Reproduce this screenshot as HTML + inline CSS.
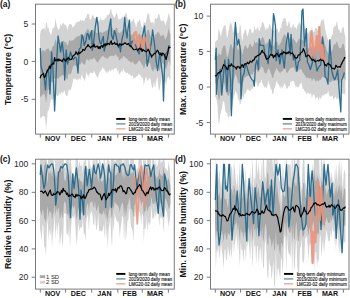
<!DOCTYPE html>
<html><head><meta charset="utf-8"><style>html,body{margin:0;padding:0;background:#fff;width:350px;height:298px;overflow:hidden;position:relative}</style></head>
<body>
<svg width="350" height="298" viewBox="0 0 350 298" style="position:absolute;left:0;top:0">
<defs><clipPath id="clipa"><rect x="35.5" y="4.2" width="138.8" height="129.9"/></clipPath><clipPath id="clipb"><rect x="210.5" y="4.2" width="138.5" height="129.9"/></clipPath><clipPath id="clipc"><rect x="35.5" y="159.2" width="138.8" height="129.90000000000003"/></clipPath><clipPath id="clipd"><rect x="210.5" y="159.2" width="138.5" height="129.90000000000003"/></clipPath></defs>
<g clip-path="url(#clipa)">
<path d="M40.00,34.63 L40.86,30.30 L41.72,29.78 L42.57,28.39 L43.43,28.67 L44.29,27.57 L45.15,30.96 L46.01,22.30 L46.86,22.88 L47.72,28.97 L48.58,27.10 L49.44,31.72 L50.29,34.08 L51.15,35.12 L52.01,31.93 L52.87,27.56 L53.73,28.16 L54.58,26.40 L55.44,17.90 L56.30,23.75 L57.16,26.93 L58.02,29.40 L58.87,29.38 L59.73,28.17 L60.59,23.09 L61.45,26.16 L62.31,23.90 L63.16,22.77 L64.02,23.40 L64.88,25.42 L65.74,24.53 L66.59,26.74 L67.45,30.30 L68.31,26.48 L69.17,24.15 L70.03,24.04 L70.88,24.26 L71.74,24.94 L72.60,27.73 L73.46,27.03 L74.32,25.43 L75.17,25.32 L76.03,22.20 L76.89,22.44 L77.75,21.76 L78.61,21.66 L79.46,21.79 L80.32,19.34 L81.18,20.94 L82.04,20.25 L82.89,20.40 L83.75,21.26 L84.61,20.17 L85.47,17.94 L86.33,17.60 L87.18,13.93 L88.04,14.01 L88.90,13.63 L89.76,19.48 L90.62,19.44 L91.47,18.03 L92.33,15.34 L93.19,15.12 L94.05,17.79 L94.91,17.70 L95.76,18.13 L96.62,18.90 L97.48,17.10 L98.34,19.97 L99.19,21.86 L100.05,17.69 L100.91,19.82 L101.77,19.48 L102.63,20.57 L103.48,19.71 L104.34,20.09 L105.20,16.95 L106.06,19.38 L106.92,14.59 L107.77,15.50 L108.63,14.71 L109.49,13.56 L110.35,9.54 L111.21,9.19 L112.06,14.37 L112.92,14.49 L113.78,17.48 L114.64,17.76 L115.49,15.18 L116.35,13.13 L117.21,13.15 L118.07,21.07 L118.93,17.72 L119.78,19.56 L120.64,18.93 L121.50,18.34 L122.36,16.46 L123.22,17.97 L124.07,15.45 L124.93,15.18 L125.79,12.14 L126.65,14.26 L127.51,18.56 L128.36,19.46 L129.22,21.34 L130.08,22.71 L130.94,22.76 L131.79,21.25 L132.65,21.04 L133.51,18.09 L134.37,21.94 L135.23,23.80 L136.08,27.78 L136.94,24.24 L137.80,21.13 L138.66,22.27 L139.52,18.38 L140.37,21.58 L141.23,25.24 L142.09,27.96 L142.95,26.86 L143.81,20.73 L144.66,22.79 L145.52,23.18 L146.38,19.43 L147.24,14.38 L148.09,14.12 L148.95,13.13 L149.81,19.32 L150.67,22.16 L151.53,22.71 L152.38,22.38 L153.24,21.61 L154.10,26.14 L154.96,16.95 L155.82,18.77 L156.67,18.89 L157.53,17.79 L158.39,14.16 L159.25,13.89 L160.11,18.57 L160.96,20.83 L161.82,21.51 L162.68,20.52 L163.54,20.19 L164.39,22.07 L165.25,25.98 L166.11,22.81 L166.97,20.78 L167.83,17.13 L168.68,12.74 L169.54,15.93 L170.40,19.23 L170.40,80.88 L169.54,78.91 L168.68,76.74 L167.83,76.96 L166.97,80.16 L166.11,86.29 L165.25,81.64 L164.39,81.17 L163.54,78.74 L162.68,77.15 L161.82,77.38 L160.96,81.82 L160.11,86.24 L159.25,91.30 L158.39,87.19 L157.53,76.70 L156.67,79.17 L155.82,83.34 L154.96,88.38 L154.10,80.93 L153.24,87.26 L152.38,87.89 L151.53,85.56 L150.67,79.79 L149.81,77.73 L148.95,78.89 L148.09,80.63 L147.24,80.65 L146.38,77.37 L145.52,77.27 L144.66,81.43 L143.81,85.91 L142.95,78.47 L142.09,77.39 L141.23,76.85 L140.37,74.97 L139.52,74.67 L138.66,73.38 L137.80,75.69 L136.94,76.78 L136.08,76.09 L135.23,78.42 L134.37,77.18 L133.51,79.32 L132.65,75.01 L131.79,76.37 L130.94,76.23 L130.08,74.24 L129.22,74.51 L128.36,73.69 L127.51,72.49 L126.65,73.14 L125.79,72.41 L124.93,71.81 L124.07,70.62 L123.22,68.27 L122.36,72.07 L121.50,70.96 L120.64,72.16 L119.78,74.29 L118.93,74.56 L118.07,68.76 L117.21,72.09 L116.35,68.01 L115.49,68.55 L114.64,68.02 L113.78,69.91 L112.92,70.50 L112.06,68.13 L111.21,70.63 L110.35,71.58 L109.49,69.08 L108.63,71.90 L107.77,71.20 L106.92,74.50 L106.06,70.28 L105.20,72.59 L104.34,68.75 L103.48,68.79 L102.63,66.87 L101.77,69.40 L100.91,70.33 L100.05,71.96 L99.19,73.11 L98.34,76.18 L97.48,77.89 L96.62,76.35 L95.76,74.22 L94.91,73.05 L94.05,70.34 L93.19,72.95 L92.33,73.34 L91.47,72.71 L90.62,72.76 L89.76,73.03 L88.90,77.72 L88.04,73.99 L87.18,75.34 L86.33,71.77 L85.47,78.45 L84.61,81.22 L83.75,79.01 L82.89,77.77 L82.04,73.99 L81.18,76.56 L80.32,80.84 L79.46,77.55 L78.61,80.25 L77.75,78.70 L76.89,79.67 L76.03,80.37 L75.17,78.08 L74.32,79.52 L73.46,78.29 L72.60,83.07 L71.74,86.31 L70.88,89.44 L70.03,91.26 L69.17,88.66 L68.31,91.24 L67.45,95.74 L66.59,96.04 L65.74,95.09 L64.88,91.27 L64.02,90.44 L63.16,92.92 L62.31,92.91 L61.45,91.23 L60.59,95.27 L59.73,91.94 L58.87,94.44 L58.02,96.08 L57.16,96.04 L56.30,94.42 L55.44,100.55 L54.58,95.34 L53.73,97.61 L52.87,100.59 L52.01,99.01 L51.15,99.25 L50.29,102.09 L49.44,107.40 L48.58,110.21 L47.72,110.97 L46.86,121.89 L46.01,129.40 L45.15,117.95 L44.29,116.36 L43.43,115.65 L42.57,116.09 L41.72,117.31 L40.86,119.10 L40.00,115.89 Z" fill="#d3d3d3"/>
<path d="M40.00,55.40 L40.86,52.71 L41.72,51.32 L42.57,50.29 L43.43,50.50 L44.29,50.22 L45.15,52.54 L46.01,49.35 L46.86,48.53 L47.72,49.40 L48.58,47.99 L49.44,50.43 L50.29,50.97 L51.15,50.76 L52.01,48.30 L52.87,45.86 L53.73,45.91 L54.58,43.09 L55.44,38.41 L56.30,41.85 L57.16,44.03 L58.02,46.08 L58.87,45.31 L59.73,44.83 L60.59,41.94 L61.45,42.44 L62.31,41.79 L63.16,40.40 L64.02,41.18 L64.88,42.28 L65.74,42.14 L66.59,43.82 L67.45,46.11 L68.31,43.58 L69.17,40.32 L70.03,40.34 L70.88,41.50 L71.74,40.31 L72.60,40.26 L73.46,40.56 L74.32,38.59 L75.17,38.72 L76.03,36.73 L76.89,36.79 L77.75,36.22 L78.61,36.04 L79.46,36.18 L80.32,34.12 L81.18,34.74 L82.04,34.37 L82.89,34.78 L83.75,35.61 L84.61,34.15 L85.47,32.10 L86.33,31.22 L87.18,28.68 L88.04,29.65 L88.90,29.44 L89.76,32.70 L90.62,32.85 L91.47,31.64 L92.33,29.97 L93.19,29.46 L94.05,31.08 L94.91,31.46 L95.76,32.02 L96.62,33.09 L97.48,32.74 L98.34,32.95 L99.19,33.55 L100.05,31.89 L100.91,32.51 L101.77,32.45 L102.63,33.19 L103.48,31.86 L104.34,31.99 L105.20,30.39 L106.06,31.74 L106.92,29.67 L107.77,30.06 L108.63,28.21 L109.49,27.80 L110.35,25.39 L111.21,25.09 L112.06,27.56 L112.92,28.88 L113.78,30.67 L114.64,30.49 L115.49,27.92 L116.35,27.72 L117.21,28.11 L118.07,32.42 L118.93,32.44 L119.78,32.90 L120.64,32.43 L121.50,31.85 L122.36,29.78 L123.22,30.49 L124.07,28.73 L124.93,28.41 L125.79,28.35 L126.65,28.52 L127.51,31.90 L128.36,33.81 L129.22,34.16 L130.08,35.16 L130.94,36.12 L131.79,34.13 L132.65,34.84 L133.51,33.02 L134.37,35.20 L135.23,37.74 L136.08,39.63 L136.94,37.83 L137.80,35.73 L138.66,34.34 L139.52,32.80 L140.37,35.44 L141.23,37.98 L142.09,40.14 L142.95,39.73 L143.81,36.15 L144.66,37.21 L145.52,36.19 L146.38,34.33 L147.24,30.79 L148.09,29.45 L148.95,29.95 L149.81,34.01 L150.67,36.38 L151.53,37.68 L152.38,37.99 L153.24,38.49 L154.10,40.02 L154.96,34.74 L155.82,34.19 L156.67,34.24 L157.53,32.31 L158.39,31.73 L159.25,33.03 L160.11,35.27 L160.96,36.42 L161.82,35.35 L162.68,35.28 L163.54,34.87 L164.39,36.90 L165.25,39.99 L166.11,37.78 L166.97,36.24 L167.83,32.40 L168.68,27.97 L169.54,31.90 L170.40,34.15 L170.40,65.88 L169.54,62.73 L168.68,60.12 L167.83,62.95 L166.97,66.34 L166.11,69.74 L165.25,67.15 L164.39,66.28 L163.54,64.55 L162.68,62.94 L161.82,64.10 L160.96,67.10 L160.11,69.25 L159.25,71.58 L158.39,68.31 L157.53,62.16 L156.67,64.06 L155.82,67.29 L154.96,70.29 L154.10,67.96 L153.24,71.42 L152.38,70.46 L151.53,69.55 L150.67,65.47 L149.81,63.12 L148.95,62.30 L148.09,62.65 L147.24,64.26 L146.38,63.17 L145.52,63.74 L144.66,66.71 L143.81,69.02 L142.95,65.72 L142.09,64.60 L141.23,63.43 L140.37,61.49 L139.52,60.69 L138.66,60.56 L137.80,62.40 L136.94,63.20 L136.08,64.12 L135.23,64.83 L134.37,63.74 L133.51,63.12 L132.65,61.05 L131.79,62.62 L130.94,62.75 L130.08,61.52 L129.22,61.11 L128.36,60.87 L127.51,59.10 L126.65,58.45 L125.79,58.06 L124.93,56.90 L124.07,56.62 L123.22,55.80 L122.36,58.41 L121.50,58.09 L120.64,59.00 L119.78,60.11 L118.93,60.53 L118.07,56.04 L117.21,57.13 L116.35,54.76 L115.49,54.78 L114.64,54.74 L113.78,56.50 L112.92,55.95 L112.06,55.45 L111.21,55.65 L110.35,56.21 L109.49,56.09 L108.63,57.42 L107.77,58.15 L106.92,59.36 L106.06,57.09 L105.20,58.43 L104.34,56.83 L103.48,56.55 L102.63,55.65 L101.77,57.09 L100.91,57.79 L100.05,59.62 L99.19,59.38 L98.34,62.19 L97.48,62.60 L96.62,61.81 L95.76,60.05 L94.91,59.08 L94.05,57.84 L93.19,57.92 L92.33,59.67 L91.47,59.20 L90.62,59.20 L89.76,59.08 L88.90,61.44 L88.04,58.91 L87.18,59.81 L86.33,59.15 L85.47,63.00 L84.61,64.95 L83.75,64.25 L82.89,63.41 L82.04,61.78 L81.18,63.12 L80.32,64.59 L79.46,64.51 L78.61,64.98 L77.75,65.47 L76.89,65.87 L76.03,66.29 L75.17,64.69 L74.32,66.19 L73.46,65.33 L72.60,68.11 L71.74,71.38 L70.88,73.89 L70.03,74.70 L69.17,72.70 L68.31,74.98 L67.45,79.13 L66.59,79.06 L65.74,77.62 L64.88,74.46 L64.02,74.99 L63.16,75.51 L62.31,75.30 L61.45,75.15 L60.59,77.06 L59.73,76.53 L58.87,78.44 L58.02,78.86 L57.16,78.30 L56.30,77.11 L55.44,79.47 L54.58,77.72 L53.73,80.21 L52.87,82.24 L52.01,81.72 L51.15,82.62 L50.29,84.77 L49.44,88.07 L48.58,89.70 L47.72,90.66 L46.86,97.50 L46.01,103.27 L45.15,95.95 L44.29,94.34 L43.43,93.77 L42.57,94.79 L41.72,95.82 L40.86,97.30 L40.00,95.83 Z" fill="#a9a9a9"/>
<path d="M40.30,48.00 L41.00,66.00 L42.50,72.00 L44.00,76.00 L45.50,90.00 L47.00,70.00 L48.50,69.00 L50.00,94.00 L51.60,52.00 L53.10,72.00 L54.60,111.00 L55.60,89.50 L56.60,62.00 L58.10,36.00 L59.35,43.79 L60.60,52.00 L62.10,42.00 L63.70,55.00 L64.70,80.00 L66.20,50.00 L67.50,64.00 L69.00,58.80 L70.50,52.00 L71.95,56.69 L73.40,59.50 L74.90,57.07 L76.40,58.00 L78.00,73.00 L79.30,49.00 L80.80,47.70 L82.00,35.00 L83.10,37.88 L84.20,45.40 L85.70,41.86 L87.20,33.50 L88.30,34.49 L89.40,39.50 L90.50,34.23 L91.60,30.60 L92.30,50.30 L93.80,41.00 L95.30,26.80 L96.80,17.30 L97.90,24.94 L99.00,38.00 L100.10,42.93 L101.20,43.90 L102.30,39.58 L103.40,36.50 L104.20,51.00 L105.60,45.40 L106.75,43.43 L107.90,38.00 L109.35,26.42 L110.80,18.80 L111.50,35.00 L113.00,39.50 L114.50,30.60 L115.95,35.02 L117.40,42.40 L118.55,47.49 L119.70,45.40 L120.40,51.80 L121.90,39.50 L123.35,33.91 L124.80,17.30 L125.90,31.20 L127.00,38.00 L128.25,27.01 L129.50,20.20 L130.20,46.80 L131.30,42.86 L132.40,40.90 L133.90,45.07 L135.40,45.00 L137.25,49.51 L139.10,54.20 L140.95,43.94 L142.80,35.00 L144.60,26.00 L145.90,45.64 L147.20,66.00 L148.70,58.74 L150.20,48.30 L151.40,42.28 L152.60,30.00 L153.60,37.37 L154.60,45.00 L156.05,60.02 L157.50,70.50 L158.65,61.87 L159.80,52.70 L161.25,64.60 L162.70,76.40 L163.50,101.00 L164.90,55.70 L166.40,52.92 L167.90,51.20 L169.00,45.00" fill="none" stroke="#2a6d8e" stroke-width="1.3" stroke-linejoin="round"/>
<path d="M133.50,47.00 L134.50,33.00 L136.00,32.00 L137.50,40.00 L138.50,50.00 L139.50,42.00 L141.00,36.00 L142.50,48.00 L144.00,40.00 L145.50,38.00 L147.00,44.00 L148.50,50.00 L149.70,46.00" fill="none" stroke="#ea9479" stroke-width="2.2" stroke-linejoin="round" stroke-opacity="0.92"/>
<path d="M40.00,78.21 L40.86,75.70 L41.72,74.99 L42.57,74.28 L43.43,73.37 L44.29,77.59 L45.15,76.80 L46.01,73.54 L46.86,72.32 L47.72,70.05 L48.58,69.57 L49.44,66.01 L50.29,68.33 L51.15,64.73 L52.01,64.35 L52.87,63.24 L53.73,64.12 L54.58,57.58 L55.44,60.81 L56.30,60.21 L57.16,59.18 L58.02,61.11 L58.87,58.92 L59.73,60.58 L60.59,59.94 L61.45,60.92 L62.31,61.60 L63.16,59.16 L64.02,58.76 L64.88,60.19 L65.74,61.55 L66.59,58.92 L67.45,59.36 L68.31,57.39 L69.17,58.54 L70.03,59.84 L70.88,59.30 L71.74,59.16 L72.60,56.62 L73.46,55.31 L74.32,54.93 L75.17,54.25 L76.03,51.74 L76.89,53.22 L77.75,54.63 L78.61,52.06 L79.46,53.42 L80.32,52.91 L81.18,51.78 L82.04,51.60 L82.89,49.29 L83.75,50.01 L84.61,50.32 L85.47,48.53 L86.33,47.05 L87.18,46.58 L88.04,44.54 L88.90,46.20 L89.76,46.58 L90.62,47.96 L91.47,46.62 L92.33,45.86 L93.19,46.70 L94.05,44.01 L94.91,47.13 L95.76,46.95 L96.62,46.55 L97.48,46.09 L98.34,48.48 L99.19,46.61 L100.05,48.69 L100.91,46.09 L101.77,45.36 L102.63,47.33 L103.48,45.41 L104.34,44.02 L105.20,45.98 L106.06,43.48 L106.92,45.08 L107.77,43.33 L108.63,43.78 L109.49,44.69 L110.35,42.28 L111.21,40.87 L112.06,44.49 L112.92,43.67 L113.78,43.56 L114.64,42.43 L115.49,44.52 L116.35,44.49 L117.21,43.42 L118.07,45.95 L118.93,45.49 L119.78,43.68 L120.64,44.23 L121.50,45.41 L122.36,44.07 L123.22,44.30 L124.07,43.35 L124.93,42.78 L125.79,43.56 L126.65,44.17 L127.51,44.49 L128.36,43.37 L129.22,45.00 L130.08,46.20 L130.94,45.72 L131.79,47.11 L132.65,48.43 L133.51,49.70 L134.37,49.74 L135.23,49.49 L136.08,49.17 L136.94,49.21 L137.80,50.80 L138.66,48.97 L139.52,48.22 L140.37,49.77 L141.23,48.47 L142.09,51.51 L142.95,49.45 L143.81,50.33 L144.66,50.91 L145.52,51.09 L146.38,51.91 L147.24,50.75 L148.09,49.22 L148.95,51.02 L149.81,53.25 L150.67,54.16 L151.53,57.14 L152.38,55.24 L153.24,54.93 L154.10,53.45 L154.96,53.68 L155.82,52.69 L156.67,51.20 L157.53,50.20 L158.39,51.68 L159.25,54.13 L160.11,54.74 L160.96,52.98 L161.82,55.80 L162.68,53.03 L163.54,53.71 L164.39,54.92 L165.25,57.08 L166.11,59.52 L166.97,55.90 L167.83,53.10 L168.68,47.14 L169.54,47.94 L170.40,46.73" fill="none" stroke="#000" stroke-width="1.2" stroke-linejoin="round"/>
</g>
<rect x="35.5" y="4.2" width="138.80" height="129.90" fill="none" stroke="#7a7a7a" stroke-width="1"/>
<line x1="40.3" y1="134.1" x2="40.3" y2="137.7" stroke="#7a7a7a" stroke-width="1"/>
<line x1="65.6" y1="134.1" x2="65.6" y2="137.7" stroke="#7a7a7a" stroke-width="1"/>
<line x1="91.7" y1="134.1" x2="91.7" y2="137.7" stroke="#7a7a7a" stroke-width="1"/>
<line x1="117.8" y1="134.1" x2="117.8" y2="137.7" stroke="#7a7a7a" stroke-width="1"/>
<line x1="142.3" y1="134.1" x2="142.3" y2="137.7" stroke="#7a7a7a" stroke-width="1"/>
<line x1="168.4" y1="134.1" x2="168.4" y2="137.7" stroke="#7a7a7a" stroke-width="1"/>
<text x="52.65" y="141.30" font-family="'Liberation Sans', sans-serif" font-weight="bold" font-size="7.15" text-anchor="middle" fill="#111">NOV</text>
<text x="78.35" y="141.30" font-family="'Liberation Sans', sans-serif" font-weight="bold" font-size="7.15" text-anchor="middle" fill="#111">DEC</text>
<text x="104.45" y="141.30" font-family="'Liberation Sans', sans-serif" font-weight="bold" font-size="7.15" text-anchor="middle" fill="#111">JAN</text>
<text x="129.75" y="141.30" font-family="'Liberation Sans', sans-serif" font-weight="bold" font-size="7.15" text-anchor="middle" fill="#111">FEB</text>
<text x="155.05" y="141.30" font-family="'Liberation Sans', sans-serif" font-weight="bold" font-size="7.15" text-anchor="middle" fill="#111">MAR</text>
<line x1="31.7" y1="24.0" x2="35.5" y2="24.0" stroke="#7a7a7a" stroke-width="1"/>
<text x="28.3" y="27.10" font-family="'Liberation Sans', sans-serif" font-size="8.6" text-anchor="end" fill="#2a2a2a">5</text>
<line x1="31.7" y1="61.4" x2="35.5" y2="61.4" stroke="#7a7a7a" stroke-width="1"/>
<text x="28.3" y="64.50" font-family="'Liberation Sans', sans-serif" font-size="8.6" text-anchor="end" fill="#2a2a2a">0</text>
<line x1="31.7" y1="99.3" x2="35.5" y2="99.3" stroke="#7a7a7a" stroke-width="1"/>
<text x="28.3" y="102.40" font-family="'Liberation Sans', sans-serif" font-size="8.6" text-anchor="end" fill="#2a2a2a">-5</text>
<text transform="translate(10.6,69.3) rotate(-90)" font-family="'Liberation Sans', sans-serif" font-weight="bold" font-size="8.85" text-anchor="middle" fill="#111">Temperature (°C)</text>
<text x="0" y="7.4" font-family="'Liberation Sans', sans-serif" font-weight="bold" font-size="8.5" fill="#111">(a)</text>
<text x="128.80" y="120.90" font-family="'Liberation Sans', sans-serif" font-size="4.42" fill="#111" stroke="#111" stroke-width="0.12">long-term daily mean</text>
<line x1="116.20" y1="118.90" x2="125.40" y2="118.90" stroke="#000" stroke-width="1.9"/>
<text x="128.80" y="125.85" font-family="'Liberation Sans', sans-serif" font-size="4.42" fill="#111" stroke="#111" stroke-width="0.12">2019/2020 daily mean</text>
<line x1="116.20" y1="123.85" x2="125.40" y2="123.85" stroke="#86aabd" stroke-width="1.8"/>
<text x="128.80" y="130.80" font-family="'Liberation Sans', sans-serif" font-size="4.42" fill="#111" stroke="#111" stroke-width="0.12">LMG20-02 daily mean</text>
<line x1="116.20" y1="128.80" x2="125.40" y2="128.80" stroke="#f3b29b" stroke-width="1.6"/>
<g clip-path="url(#clipb)">
<path d="M215.00,41.41 L215.86,42.04 L216.72,40.04 L217.57,40.27 L218.43,29.53 L219.29,29.69 L220.15,34.53 L221.01,36.61 L221.86,31.76 L222.72,28.91 L223.58,26.62 L224.44,25.43 L225.29,24.70 L226.15,29.44 L227.01,38.66 L227.87,35.42 L228.73,29.62 L229.58,25.58 L230.44,22.41 L231.30,23.40 L232.16,26.47 L233.02,33.21 L233.87,29.35 L234.73,26.18 L235.59,25.34 L236.45,26.71 L237.31,33.83 L238.16,32.48 L239.02,33.01 L239.88,23.24 L240.74,26.86 L241.59,36.39 L242.45,41.92 L243.31,33.79 L244.17,32.63 L245.03,28.68 L245.88,29.88 L246.74,33.93 L247.60,36.47 L248.46,33.42 L249.32,29.11 L250.17,29.13 L251.03,29.59 L251.89,33.82 L252.75,32.42 L253.61,32.76 L254.46,24.89 L255.32,29.68 L256.18,30.23 L257.04,27.62 L257.89,27.14 L258.75,30.72 L259.61,31.06 L260.47,27.50 L261.33,26.16 L262.18,21.79 L263.04,22.59 L263.90,23.95 L264.76,27.43 L265.62,31.01 L266.47,27.55 L267.33,28.19 L268.19,29.83 L269.05,24.39 L269.91,24.29 L270.76,27.02 L271.62,28.70 L272.48,30.70 L273.34,29.98 L274.19,31.52 L275.05,26.68 L275.91,27.82 L276.77,29.36 L277.63,28.43 L278.48,32.84 L279.34,32.13 L280.20,27.16 L281.06,29.01 L281.92,21.97 L282.77,20.67 L283.63,17.88 L284.49,18.30 L285.35,17.94 L286.21,21.64 L287.06,26.29 L287.92,25.58 L288.78,20.65 L289.64,22.61 L290.49,27.50 L291.35,28.17 L292.21,26.49 L293.07,23.41 L293.93,26.23 L294.78,27.60 L295.64,27.36 L296.50,29.50 L297.36,25.68 L298.22,24.31 L299.07,22.09 L299.93,23.75 L300.79,25.69 L301.65,26.65 L302.51,21.73 L303.36,25.53 L304.22,26.00 L305.08,29.12 L305.94,29.36 L306.79,30.49 L307.65,33.82 L308.51,33.28 L309.37,30.32 L310.23,31.54 L311.08,31.72 L311.94,26.47 L312.80,31.35 L313.66,32.38 L314.52,31.58 L315.37,27.23 L316.23,28.11 L317.09,29.67 L317.95,29.53 L318.81,25.28 L319.66,27.59 L320.52,22.75 L321.38,20.24 L322.24,20.79 L323.09,18.55 L323.95,20.79 L324.81,27.34 L325.67,31.34 L326.53,35.31 L327.38,37.79 L328.24,40.96 L329.10,39.67 L329.96,39.34 L330.82,38.55 L331.67,35.79 L332.53,34.30 L333.39,28.24 L334.25,25.70 L335.11,27.33 L335.96,25.11 L336.82,20.83 L337.68,25.74 L338.54,30.16 L339.39,29.03 L340.25,32.73 L341.11,33.04 L341.97,28.89 L342.83,26.54 L343.68,27.68 L344.54,33.66 L345.40,36.38 L345.40,96.91 L344.54,93.45 L343.68,93.42 L342.83,94.13 L341.97,93.27 L341.11,93.88 L340.25,98.15 L339.39,102.04 L338.54,98.51 L337.68,97.81 L336.82,100.24 L335.96,96.73 L335.11,97.02 L334.25,98.79 L333.39,99.47 L332.53,95.36 L331.67,96.37 L330.82,96.60 L329.96,96.60 L329.10,94.97 L328.24,90.77 L327.38,93.26 L326.53,94.10 L325.67,93.69 L324.81,94.59 L323.95,94.67 L323.09,95.86 L322.24,95.33 L321.38,97.49 L320.52,99.22 L319.66,96.60 L318.81,101.02 L317.95,98.19 L317.09,96.79 L316.23,97.72 L315.37,99.42 L314.52,95.31 L313.66,94.16 L312.80,94.81 L311.94,98.56 L311.08,93.54 L310.23,93.23 L309.37,94.71 L308.51,92.32 L307.65,92.53 L306.79,94.43 L305.94,93.10 L305.08,91.50 L304.22,90.51 L303.36,88.73 L302.51,88.72 L301.65,82.52 L300.79,83.22 L299.93,84.14 L299.07,87.00 L298.22,87.23 L297.36,87.34 L296.50,86.19 L295.64,86.98 L294.78,84.15 L293.93,81.35 L293.07,80.93 L292.21,80.93 L291.35,81.79 L290.49,81.59 L289.64,86.20 L288.78,86.07 L287.92,87.94 L287.06,88.41 L286.21,88.70 L285.35,85.05 L284.49,83.05 L283.63,85.50 L282.77,86.82 L281.92,89.27 L281.06,85.13 L280.20,88.65 L279.34,85.65 L278.48,84.21 L277.63,83.30 L276.77,80.72 L275.91,83.69 L275.05,86.78 L274.19,88.47 L273.34,93.76 L272.48,94.11 L271.62,89.64 L270.76,89.07 L269.91,85.55 L269.05,83.63 L268.19,80.41 L267.33,86.30 L266.47,88.81 L265.62,86.11 L264.76,88.18 L263.90,86.53 L263.04,84.13 L262.18,82.80 L261.33,79.09 L260.47,82.95 L259.61,82.63 L258.75,85.40 L257.89,86.72 L257.04,84.57 L256.18,81.24 L255.32,81.94 L254.46,87.70 L253.61,85.18 L252.75,89.54 L251.89,87.87 L251.03,90.71 L250.17,90.28 L249.32,91.18 L248.46,89.56 L247.60,89.22 L246.74,90.47 L245.88,92.67 L245.03,95.09 L244.17,92.92 L243.31,99.36 L242.45,95.22 L241.59,98.69 L240.74,103.19 L239.88,105.08 L239.02,99.24 L238.16,100.62 L237.31,94.01 L236.45,93.00 L235.59,90.00 L234.73,94.50 L233.87,96.53 L233.02,100.83 L232.16,106.28 L231.30,108.80 L230.44,111.51 L229.58,116.25 L228.73,117.51 L227.87,116.57 L227.01,112.20 L226.15,113.54 L225.29,110.61 L224.44,103.54 L223.58,100.67 L222.72,102.12 L221.86,108.43 L221.01,111.90 L220.15,115.32 L219.29,123.71 L218.43,122.59 L217.57,105.38 L216.72,100.48 L215.86,97.69 L215.00,96.24 Z" fill="#d3d3d3"/>
<path d="M215.00,55.83 L215.86,55.91 L216.72,55.41 L217.57,56.26 L218.43,53.07 L219.29,53.82 L220.15,55.11 L221.01,55.24 L221.86,50.58 L222.72,47.60 L223.58,45.48 L224.44,45.24 L225.29,46.37 L226.15,50.95 L227.01,57.24 L227.87,55.38 L228.73,52.15 L229.58,47.48 L230.44,43.71 L231.30,44.16 L232.16,46.79 L233.02,49.74 L233.87,46.76 L234.73,42.62 L235.59,41.28 L236.45,43.52 L237.31,48.61 L238.16,50.19 L239.02,49.43 L239.88,44.22 L240.74,46.33 L241.59,51.32 L242.45,54.69 L243.31,50.30 L244.17,47.92 L245.03,45.02 L245.88,45.55 L246.74,47.73 L247.60,48.91 L248.46,47.29 L249.32,44.49 L250.17,43.73 L251.03,45.09 L251.89,46.86 L252.75,47.11 L253.61,45.02 L254.46,40.36 L255.32,43.37 L256.18,42.72 L257.04,41.70 L257.89,43.10 L258.75,44.71 L259.61,43.81 L260.47,40.50 L261.33,38.73 L262.18,36.79 L263.04,37.17 L263.90,39.36 L264.76,42.49 L265.62,45.00 L266.47,43.42 L267.33,42.59 L268.19,42.48 L269.05,39.35 L269.91,40.09 L270.76,42.15 L271.62,44.75 L272.48,46.34 L273.34,46.01 L274.19,45.24 L275.05,41.73 L275.91,41.22 L276.77,42.10 L277.63,42.53 L278.48,45.70 L279.34,45.08 L280.20,43.11 L281.06,42.58 L281.92,39.09 L282.77,36.94 L283.63,35.23 L284.49,34.50 L285.35,34.85 L286.21,37.88 L287.06,42.56 L287.92,40.65 L288.78,37.29 L289.64,38.30 L290.49,41.11 L291.35,41.76 L292.21,40.01 L293.07,37.87 L293.93,39.33 L294.78,40.60 L295.64,41.70 L296.50,43.45 L297.36,41.71 L298.22,40.15 L299.07,38.14 L299.93,39.34 L300.79,39.98 L301.65,40.54 L302.51,39.21 L303.36,41.02 L304.22,41.53 L305.08,44.16 L305.94,44.93 L306.79,46.69 L307.65,49.13 L308.51,48.24 L309.37,47.18 L310.23,48.05 L311.08,47.74 L311.94,45.22 L312.80,46.93 L313.66,48.20 L314.52,47.29 L315.37,45.48 L316.23,45.92 L317.09,46.57 L317.95,46.09 L318.81,44.49 L319.66,45.30 L320.52,41.54 L321.38,40.13 L322.24,38.95 L323.09,38.14 L323.95,40.66 L324.81,43.80 L325.67,46.13 L326.53,49.50 L327.38,51.70 L328.24,53.69 L329.10,53.23 L329.96,53.39 L330.82,53.59 L331.67,51.13 L332.53,49.44 L333.39,45.54 L334.25,44.21 L335.11,44.57 L335.96,43.33 L336.82,41.00 L337.68,44.02 L338.54,46.23 L339.39,47.84 L340.25,48.34 L341.11,48.19 L341.97,45.31 L342.83,44.10 L343.68,43.57 L344.54,48.21 L345.40,51.43 L345.40,81.56 L344.54,78.61 L343.68,77.08 L342.83,77.05 L341.97,77.17 L341.11,78.30 L340.25,82.48 L339.39,84.02 L338.54,81.40 L337.68,79.81 L336.82,80.93 L335.96,79.39 L335.11,79.26 L334.25,80.50 L333.39,81.26 L332.53,80.07 L331.67,81.33 L330.82,82.10 L329.96,82.53 L329.10,81.05 L328.24,78.76 L327.38,79.54 L326.53,79.13 L325.67,78.04 L324.81,77.68 L323.95,77.43 L323.09,76.71 L322.24,76.98 L321.38,78.46 L320.52,79.96 L319.66,79.54 L318.81,81.62 L317.95,80.70 L317.09,80.36 L316.23,80.82 L315.37,81.64 L314.52,79.26 L313.66,78.60 L312.80,79.22 L311.94,81.38 L311.08,78.15 L310.23,78.04 L309.37,78.75 L308.51,77.83 L307.65,77.63 L306.79,78.21 L305.94,77.25 L305.08,75.41 L304.22,74.80 L303.36,73.06 L302.51,72.24 L301.65,69.42 L300.79,68.98 L299.93,69.52 L299.07,69.54 L298.22,70.79 L297.36,72.27 L296.50,71.93 L295.64,71.89 L294.78,69.77 L293.93,67.61 L293.07,66.87 L292.21,68.43 L291.35,67.79 L290.49,67.94 L289.64,69.55 L288.78,70.64 L287.92,72.00 L287.06,73.26 L286.21,72.30 L285.35,68.66 L284.49,66.72 L283.63,68.97 L282.77,70.82 L281.92,71.99 L281.06,70.97 L280.20,73.77 L279.34,71.95 L278.48,71.16 L277.63,70.24 L276.77,67.68 L275.91,69.58 L275.05,71.78 L274.19,73.62 L273.34,77.53 L272.48,78.09 L271.62,75.22 L270.76,72.97 L269.91,70.59 L269.05,69.15 L268.19,68.29 L267.33,70.99 L266.47,73.26 L265.62,73.50 L264.76,73.09 L263.90,70.56 L263.04,68.11 L262.18,67.10 L261.33,65.89 L260.47,68.68 L259.61,69.60 L258.75,71.40 L257.89,72.15 L257.04,70.59 L256.18,69.19 L255.32,68.97 L254.46,71.86 L253.61,71.51 L252.75,74.81 L251.89,74.09 L251.03,75.05 L250.17,74.37 L249.32,75.74 L248.46,75.62 L247.60,76.02 L246.74,76.24 L245.88,76.90 L245.03,77.18 L244.17,78.24 L243.31,82.19 L242.45,81.79 L241.59,83.21 L240.74,84.33 L239.88,84.49 L239.02,82.02 L238.16,84.13 L237.31,78.73 L236.45,76.80 L235.59,73.70 L234.73,76.68 L233.87,79.90 L233.02,83.52 L232.16,86.52 L231.30,87.34 L230.44,89.10 L229.58,93.20 L228.73,95.74 L227.87,95.85 L227.01,93.91 L226.15,92.41 L225.29,88.82 L224.44,84.15 L223.58,82.14 L222.72,84.22 L221.86,89.31 L221.01,92.35 L220.15,95.60 L219.29,100.21 L218.43,99.08 L217.57,89.33 L216.72,85.84 L215.86,83.24 L215.00,83.22 Z" fill="#a9a9a9"/>
<path d="M215.30,60.00 L216.20,48.10 L216.60,94.30 L217.40,80.00 L218.85,75.12 L220.30,69.50 L221.80,95.00 L223.30,76.75 L224.80,60.00 L226.20,77.00 L227.00,91.40 L228.50,59.20 L229.60,67.90 L230.70,81.40 L231.40,115.80 L232.50,87.18 L233.60,57.70 L235.40,22.50 L236.35,35.68 L237.30,45.00 L238.80,39.50 L240.30,50.00 L241.00,98.80 L242.50,77.00 L244.00,73.59 L245.50,63.60 L246.95,66.88 L248.40,72.00 L250.25,76.72 L252.10,80.00 L253.20,80.39 L254.30,86.00 L255.50,65.00 L257.00,60.00 L258.50,69.50 L259.20,38.70 L260.00,45.00 L261.80,45.29 L263.60,45.40 L265.00,55.00 L266.55,55.87 L268.10,63.60 L269.60,39.50 L270.55,46.10 L271.50,55.00 L272.50,34.86 L273.50,13.60 L274.50,18.58 L275.50,26.90 L276.20,60.70 L278.00,50.00 L278.95,57.91 L279.90,64.00 L280.95,57.14 L282.00,50.00 L283.15,59.80 L284.30,68.00 L286.00,45.00 L287.00,39.17 L288.00,32.80 L289.10,43.57 L290.20,55.00 L291.00,34.30 L292.25,51.44 L293.50,60.00 L295.00,55.00 L295.95,64.68 L296.90,71.00 L298.35,62.09 L299.80,60.00 L300.90,38.13 L302.00,10.80 L303.00,9.00 L304.50,45.90 L305.45,38.03 L306.40,28.40 L307.40,62.20 L308.90,65.00 L310.40,69.50 L312.25,63.25 L314.10,51.80 L315.55,62.23 L317.00,71.00 L318.85,66.78 L320.70,65.10 L321.60,49.43 L322.50,36.80 L323.50,45.90 L325.20,76.90 L326.60,78.55 L328.00,84.00 L328.90,62.18 L329.80,40.00 L330.80,55.25 L331.80,71.00 L333.30,76.74 L334.80,79.90 L336.25,75.77 L337.70,70.00 L339.25,91.20 L340.80,111.90 L341.60,79.90 L343.00,77.33 L344.40,72.50" fill="none" stroke="#2a6d8e" stroke-width="1.3" stroke-linejoin="round"/>
<path d="M309.70,58.00 L310.50,40.00 L311.50,31.00 L313.40,50.00 L314.50,58.00 L315.80,45.00 L316.70,36.00 L318.00,50.00 L319.30,27.00 L320.50,48.00 L321.50,60.00 L322.50,45.00 L323.50,55.00 L324.50,62.00" fill="none" stroke="#ea9479" stroke-width="2.2" stroke-linejoin="round" stroke-opacity="0.92"/>
<path d="M215.00,75.56 L215.86,76.09 L216.72,75.63 L217.57,73.63 L218.43,72.60 L219.29,72.79 L220.15,71.48 L221.01,71.87 L221.86,69.63 L222.72,67.11 L223.58,64.63 L224.44,65.56 L225.29,66.07 L226.15,66.99 L227.01,69.81 L227.87,69.08 L228.73,65.30 L229.58,65.56 L230.44,66.11 L231.30,63.74 L232.16,65.62 L233.02,66.40 L233.87,66.08 L234.73,67.05 L235.59,67.55 L236.45,69.18 L237.31,66.42 L238.16,66.86 L239.02,66.78 L239.88,68.37 L240.74,67.49 L241.59,65.07 L242.45,64.71 L243.31,67.40 L244.17,64.89 L245.03,63.58 L245.88,64.13 L246.74,63.81 L247.60,62.21 L248.46,63.70 L249.32,63.04 L250.17,61.07 L251.03,61.72 L251.89,62.13 L252.75,60.17 L253.61,60.45 L254.46,59.19 L255.32,56.75 L256.18,57.20 L257.04,55.86 L257.89,55.28 L258.75,55.56 L259.61,54.05 L260.47,54.04 L261.33,51.91 L262.18,50.33 L263.04,52.58 L263.90,52.78 L264.76,54.10 L265.62,57.00 L266.47,59.18 L267.33,58.54 L268.19,58.78 L269.05,57.38 L269.91,55.68 L270.76,54.24 L271.62,55.20 L272.48,54.65 L273.34,57.88 L274.19,55.35 L275.05,56.78 L275.91,54.15 L276.77,53.45 L277.63,54.33 L278.48,56.04 L279.34,56.86 L280.20,53.70 L281.06,54.14 L281.92,53.22 L282.77,53.92 L283.63,51.65 L284.49,52.70 L285.35,52.60 L286.21,53.91 L287.06,52.30 L287.92,53.52 L288.78,51.71 L289.64,52.23 L290.49,52.98 L291.35,53.64 L292.21,52.91 L293.07,54.03 L293.93,55.69 L294.78,57.52 L295.64,57.64 L296.50,58.20 L297.36,57.50 L298.22,54.81 L299.07,54.88 L299.93,54.88 L300.79,52.80 L301.65,52.25 L302.51,51.71 L303.36,48.70 L304.22,50.52 L305.08,53.14 L305.94,56.81 L306.79,56.33 L307.65,55.23 L308.51,55.12 L309.37,55.96 L310.23,57.64 L311.08,58.60 L311.94,60.31 L312.80,59.94 L313.66,59.65 L314.52,61.14 L315.37,61.80 L316.23,61.04 L317.09,60.75 L317.95,60.35 L318.81,61.04 L319.66,60.33 L320.52,59.06 L321.38,60.34 L322.24,60.13 L323.09,60.42 L323.95,61.92 L324.81,65.36 L325.67,64.81 L326.53,66.16 L327.38,63.91 L328.24,63.13 L329.10,64.63 L329.96,64.47 L330.82,66.28 L331.67,67.90 L332.53,68.49 L333.39,68.39 L334.25,69.18 L335.11,68.05 L335.96,65.23 L336.82,66.41 L337.68,67.36 L338.54,66.73 L339.39,66.64 L340.25,67.25 L341.11,64.62 L341.97,63.16 L342.83,61.10 L343.68,60.25 L344.54,57.45 L345.40,58.27" fill="none" stroke="#000" stroke-width="1.2" stroke-linejoin="round"/>
</g>
<rect x="210.5" y="4.2" width="138.50" height="129.90" fill="none" stroke="#7a7a7a" stroke-width="1"/>
<line x1="215.3" y1="134.1" x2="215.3" y2="137.7" stroke="#7a7a7a" stroke-width="1"/>
<line x1="240.6" y1="134.1" x2="240.6" y2="137.7" stroke="#7a7a7a" stroke-width="1"/>
<line x1="266.7" y1="134.1" x2="266.7" y2="137.7" stroke="#7a7a7a" stroke-width="1"/>
<line x1="292.8" y1="134.1" x2="292.8" y2="137.7" stroke="#7a7a7a" stroke-width="1"/>
<line x1="317.3" y1="134.1" x2="317.3" y2="137.7" stroke="#7a7a7a" stroke-width="1"/>
<line x1="343.4" y1="134.1" x2="343.4" y2="137.7" stroke="#7a7a7a" stroke-width="1"/>
<text x="227.65" y="141.30" font-family="'Liberation Sans', sans-serif" font-weight="bold" font-size="7.15" text-anchor="middle" fill="#111">NOV</text>
<text x="253.35" y="141.30" font-family="'Liberation Sans', sans-serif" font-weight="bold" font-size="7.15" text-anchor="middle" fill="#111">DEC</text>
<text x="279.45" y="141.30" font-family="'Liberation Sans', sans-serif" font-weight="bold" font-size="7.15" text-anchor="middle" fill="#111">JAN</text>
<text x="304.75" y="141.30" font-family="'Liberation Sans', sans-serif" font-weight="bold" font-size="7.15" text-anchor="middle" fill="#111">FEB</text>
<text x="330.05" y="141.30" font-family="'Liberation Sans', sans-serif" font-weight="bold" font-size="7.15" text-anchor="middle" fill="#111">MAR</text>
<line x1="206.7" y1="16.1" x2="210.5" y2="16.1" stroke="#7a7a7a" stroke-width="1"/>
<text x="203.3" y="19.20" font-family="'Liberation Sans', sans-serif" font-size="8.6" text-anchor="end" fill="#2a2a2a">10</text>
<line x1="206.7" y1="51.4" x2="210.5" y2="51.4" stroke="#7a7a7a" stroke-width="1"/>
<text x="203.3" y="54.50" font-family="'Liberation Sans', sans-serif" font-size="8.6" text-anchor="end" fill="#2a2a2a">5</text>
<line x1="206.7" y1="87.0" x2="210.5" y2="87.0" stroke="#7a7a7a" stroke-width="1"/>
<text x="203.3" y="90.10" font-family="'Liberation Sans', sans-serif" font-size="8.6" text-anchor="end" fill="#2a2a2a">0</text>
<line x1="206.7" y1="122.5" x2="210.5" y2="122.5" stroke="#7a7a7a" stroke-width="1"/>
<text x="203.3" y="125.60" font-family="'Liberation Sans', sans-serif" font-size="8.6" text-anchor="end" fill="#2a2a2a">-5</text>
<text transform="translate(185.6,69.3) rotate(-90)" font-family="'Liberation Sans', sans-serif" font-weight="bold" font-size="8.85" text-anchor="middle" fill="#111">Max. temperature (°C)</text>
<text x="175" y="7.4" font-family="'Liberation Sans', sans-serif" font-weight="bold" font-size="8.5" fill="#111">(b)</text>
<text x="295.41" y="120.90" font-family="'Liberation Sans', sans-serif" font-size="4.42" fill="#111" stroke="#111" stroke-width="0.12">long-term daily maximum</text>
<line x1="282.81" y1="118.90" x2="292.01" y2="118.90" stroke="#000" stroke-width="1.9"/>
<text x="295.41" y="125.85" font-family="'Liberation Sans', sans-serif" font-size="4.42" fill="#111" stroke="#111" stroke-width="0.12">2019/2020 daily maximum</text>
<line x1="282.81" y1="123.85" x2="292.01" y2="123.85" stroke="#86aabd" stroke-width="1.8"/>
<text x="295.41" y="130.80" font-family="'Liberation Sans', sans-serif" font-size="4.42" fill="#111" stroke="#111" stroke-width="0.12">LMG20-02 daily maximum</text>
<line x1="282.81" y1="128.80" x2="292.01" y2="128.80" stroke="#f3b29b" stroke-width="1.6"/>
<g clip-path="url(#clipc)">
<path d="M40.00,153.34 L40.86,148.13 L41.72,143.96 L42.57,159.57 L43.43,156.59 L44.29,137.46 L45.15,134.94 L46.01,127.97 L46.86,158.14 L47.72,173.66 L48.58,145.94 L49.44,156.40 L50.29,147.36 L51.15,160.47 L52.01,143.76 L52.87,156.21 L53.73,160.56 L54.58,174.87 L55.44,149.65 L56.30,162.92 L57.16,148.31 L58.02,156.72 L58.87,162.61 L59.73,143.93 L60.59,146.24 L61.45,153.22 L62.31,134.82 L63.16,139.00 L64.02,165.34 L64.88,168.67 L65.74,167.26 L66.59,151.83 L67.45,154.92 L68.31,155.88 L69.17,165.49 L70.03,141.41 L70.88,158.99 L71.74,170.78 L72.60,176.30 L73.46,172.28 L74.32,177.68 L75.17,168.69 L76.03,154.99 L76.89,143.47 L77.75,158.15 L78.61,168.49 L79.46,160.55 L80.32,165.54 L81.18,166.44 L82.04,163.37 L82.89,174.54 L83.75,158.56 L84.61,162.95 L85.47,152.65 L86.33,167.30 L87.18,168.57 L88.04,168.59 L88.90,149.42 L89.76,163.16 L90.62,166.85 L91.47,168.27 L92.33,166.12 L93.19,153.90 L94.05,152.96 L94.91,166.02 L95.76,156.81 L96.62,152.69 L97.48,160.68 L98.34,172.86 L99.19,154.94 L100.05,158.53 L100.91,163.77 L101.77,166.09 L102.63,164.36 L103.48,164.67 L104.34,149.07 L105.20,172.20 L106.06,157.69 L106.92,170.43 L107.77,144.07 L108.63,160.45 L109.49,161.03 L110.35,171.16 L111.21,147.84 L112.06,134.26 L112.92,159.75 L113.78,145.26 L114.64,162.57 L115.49,161.03 L116.35,160.02 L117.21,155.67 L118.07,156.20 L118.93,148.79 L119.78,138.20 L120.64,145.97 L121.50,150.00 L122.36,162.23 L123.22,165.13 L124.07,142.46 L124.93,166.81 L125.79,146.57 L126.65,152.24 L127.51,153.58 L128.36,150.90 L129.22,167.42 L130.08,162.83 L130.94,152.09 L131.79,156.05 L132.65,154.58 L133.51,144.34 L134.37,170.95 L135.23,167.61 L136.08,171.86 L136.94,167.05 L137.80,170.10 L138.66,159.15 L139.52,157.38 L140.37,158.09 L141.23,152.13 L142.09,164.77 L142.95,168.84 L143.81,142.96 L144.66,162.13 L145.52,157.37 L146.38,171.85 L147.24,157.03 L148.09,158.95 L148.95,158.43 L149.81,151.26 L150.67,156.62 L151.53,171.61 L152.38,157.69 L153.24,157.49 L154.10,159.00 L154.96,167.14 L155.82,159.87 L156.67,167.31 L157.53,165.24 L158.39,161.99 L159.25,148.84 L160.11,164.12 L160.96,158.63 L161.82,163.41 L162.68,160.59 L163.54,142.12 L164.39,158.95 L165.25,169.03 L166.11,167.56 L166.97,171.68 L167.83,169.84 L168.68,160.91 L169.54,168.08 L170.40,176.46 L170.40,213.11 L169.54,220.64 L168.68,227.12 L167.83,220.15 L166.97,212.69 L166.11,210.61 L165.25,207.55 L164.39,218.69 L163.54,234.06 L162.68,218.37 L161.82,216.78 L160.96,219.33 L160.11,215.65 L159.25,226.86 L158.39,213.06 L157.53,213.63 L156.67,210.89 L155.82,217.56 L154.96,211.42 L154.10,217.33 L153.24,218.84 L152.38,218.33 L151.53,205.98 L150.67,219.79 L149.81,226.51 L148.95,221.31 L148.09,224.07 L147.24,231.47 L146.38,215.39 L145.52,229.80 L144.66,227.35 L143.81,242.38 L142.95,213.75 L142.09,214.26 L141.23,224.47 L140.37,214.91 L139.52,211.85 L138.66,211.14 L137.80,204.19 L136.94,210.65 L136.08,209.28 L135.23,217.34 L134.37,216.15 L133.51,242.18 L132.65,230.70 L131.79,227.61 L130.94,227.76 L130.08,214.30 L129.22,207.58 L128.36,220.61 L127.51,220.48 L126.65,232.02 L125.79,241.87 L124.93,218.72 L124.07,242.03 L123.22,218.13 L122.36,215.60 L121.50,221.70 L120.64,227.69 L119.78,237.71 L118.93,224.42 L118.07,220.78 L117.21,222.13 L116.35,219.14 L115.49,217.40 L114.64,213.32 L113.78,231.64 L112.92,220.68 L112.06,247.52 L111.21,237.22 L110.35,216.21 L109.49,224.32 L108.63,228.28 L107.77,248.52 L106.92,227.54 L106.06,240.07 L105.20,218.54 L104.34,238.80 L103.48,223.58 L102.63,230.07 L101.77,231.45 L100.91,230.39 L100.05,231.15 L99.19,231.25 L98.34,213.84 L97.48,223.85 L96.62,231.01 L95.76,225.19 L94.91,213.02 L94.05,226.11 L93.19,223.47 L92.33,213.41 L91.47,210.71 L90.62,213.23 L89.76,216.03 L88.90,232.15 L88.04,213.96 L87.18,216.99 L86.33,221.24 L85.47,241.98 L84.61,232.77 L83.75,234.61 L82.89,218.08 L82.04,227.54 L81.18,227.56 L80.32,227.27 L79.46,231.60 L78.61,221.84 L77.75,231.25 L76.89,245.87 L76.03,236.55 L75.17,223.48 L74.32,213.85 L73.46,218.85 L72.60,215.47 L71.74,219.13 L70.88,230.14 L70.03,248.42 L69.17,224.97 L68.31,237.20 L67.45,233.31 L66.59,234.47 L65.74,214.57 L64.88,212.92 L64.02,213.53 L63.16,240.15 L62.31,247.06 L61.45,230.36 L60.59,238.95 L59.73,245.98 L58.87,221.28 L58.02,226.18 L57.16,234.57 L56.30,221.97 L55.44,239.78 L54.58,214.17 L53.73,228.38 L52.87,234.60 L52.01,247.28 L51.15,226.53 L50.29,236.01 L49.44,228.09 L48.58,241.59 L47.72,217.64 L46.86,227.89 L46.01,256.75 L45.15,246.70 L44.29,247.71 L43.43,226.98 L42.57,224.27 L41.72,241.03 L40.86,233.87 L40.00,228.17 Z" fill="#d3d3d3"/>
<path d="M40.00,172.16 L40.86,170.42 L41.72,168.30 L42.57,176.98 L43.43,174.27 L44.29,165.13 L45.15,164.18 L46.01,160.45 L46.86,176.98 L47.72,183.58 L48.58,169.67 L49.44,174.74 L50.29,169.83 L51.15,177.06 L52.01,169.48 L52.87,176.14 L53.73,177.95 L54.58,183.93 L55.44,172.22 L56.30,178.36 L57.16,169.84 L58.02,174.06 L58.87,176.51 L59.73,168.27 L60.59,169.90 L61.45,171.76 L62.31,162.47 L63.16,164.92 L64.02,177.61 L64.88,181.07 L65.74,180.17 L66.59,172.29 L67.45,174.67 L68.31,175.79 L69.17,180.92 L70.03,168.34 L70.88,176.07 L71.74,182.44 L72.60,186.43 L73.46,184.22 L74.32,187.40 L75.17,182.11 L76.03,174.39 L76.89,170.17 L77.75,176.55 L78.61,182.02 L79.46,177.79 L80.32,180.68 L81.18,181.93 L82.04,181.05 L82.89,186.18 L83.75,177.56 L84.61,179.99 L85.47,174.44 L86.33,180.47 L87.18,181.16 L88.04,179.77 L88.90,169.72 L89.76,177.67 L90.62,177.90 L91.47,178.72 L92.33,177.28 L93.19,171.82 L94.05,170.56 L94.91,178.57 L95.76,173.18 L96.62,170.49 L97.48,176.64 L98.34,182.65 L99.19,174.59 L100.05,176.93 L100.91,180.49 L101.77,182.41 L102.63,180.50 L103.48,179.85 L104.34,171.11 L105.20,185.19 L106.06,178.37 L106.92,184.75 L107.77,171.14 L108.63,177.58 L109.49,178.15 L110.35,181.87 L111.21,169.92 L112.06,162.65 L112.92,174.28 L113.78,166.60 L114.64,176.01 L115.49,175.11 L116.35,174.81 L117.21,172.22 L118.07,172.56 L118.93,168.87 L119.78,161.66 L120.64,165.70 L121.50,169.32 L122.36,175.19 L123.22,178.83 L124.07,167.32 L124.93,179.91 L125.79,170.60 L126.65,173.59 L127.51,171.19 L128.36,168.48 L129.22,177.43 L130.08,175.57 L130.94,170.54 L131.79,174.25 L132.65,172.78 L133.51,169.15 L134.37,182.48 L135.23,179.33 L136.08,180.85 L136.94,177.87 L137.80,178.24 L138.66,171.32 L139.52,171.82 L140.37,172.11 L141.23,171.03 L142.09,178.80 L142.95,180.43 L143.81,167.47 L144.66,177.38 L145.52,176.39 L146.38,182.29 L147.24,174.46 L148.09,176.46 L148.95,174.81 L149.81,170.35 L150.67,172.11 L151.53,178.64 L152.38,173.18 L153.24,173.35 L154.10,173.60 L154.96,177.80 L155.82,174.77 L156.67,178.88 L157.53,176.86 L158.39,176.00 L159.25,168.45 L160.11,175.05 L160.96,173.84 L161.82,176.33 L162.68,175.46 L163.54,165.58 L164.39,172.96 L165.25,179.51 L166.11,179.02 L166.97,180.83 L167.83,179.95 L168.68,177.60 L169.54,181.86 L170.40,185.40 L170.40,203.25 L169.54,207.53 L168.68,209.28 L167.83,204.98 L166.97,201.84 L166.11,200.43 L165.25,197.83 L164.39,203.47 L163.54,211.55 L162.68,203.99 L161.82,203.43 L160.96,204.35 L160.11,202.32 L159.25,207.88 L158.39,200.83 L157.53,200.22 L156.67,199.80 L155.82,204.42 L154.96,200.60 L154.10,204.33 L153.24,203.41 L152.38,203.60 L151.53,196.26 L150.67,204.05 L149.81,206.90 L148.95,205.85 L148.09,209.32 L147.24,212.05 L146.38,205.08 L145.52,212.04 L144.66,210.97 L143.81,217.29 L142.95,202.06 L142.09,202.20 L141.23,206.29 L140.37,201.03 L139.52,197.79 L138.66,199.22 L137.80,195.00 L136.94,199.15 L136.08,199.67 L135.23,204.23 L134.37,205.11 L133.51,218.11 L132.65,212.34 L131.79,208.42 L130.94,209.79 L130.08,201.02 L129.22,197.54 L128.36,203.77 L127.51,205.11 L126.65,211.77 L125.79,217.15 L124.93,206.46 L124.07,217.15 L123.22,204.54 L122.36,202.24 L121.50,204.73 L120.64,206.90 L119.78,212.85 L118.93,207.91 L118.07,205.55 L117.21,205.21 L116.35,203.60 L115.49,203.44 L114.64,200.89 L113.78,209.85 L112.92,205.75 L112.06,219.45 L111.21,215.52 L110.35,205.29 L109.49,209.11 L108.63,211.41 L107.77,222.40 L106.92,213.75 L106.06,219.51 L105.20,208.60 L104.34,215.90 L103.48,209.84 L102.63,214.13 L101.77,214.86 L100.91,213.65 L100.05,213.21 L99.19,213.09 L98.34,203.95 L97.48,208.01 L96.62,211.48 L95.76,207.90 L94.91,200.67 L94.05,207.80 L93.19,206.52 L92.33,201.47 L91.47,201.45 L90.62,202.03 L89.76,203.49 L88.90,212.02 L88.04,203.04 L87.18,204.80 L86.33,208.61 L85.47,218.93 L84.61,214.21 L83.75,216.59 L82.89,209.22 L82.04,213.63 L81.18,211.73 L80.32,211.50 L79.46,213.59 L78.61,207.51 L77.75,212.11 L76.89,220.03 L76.03,216.41 L75.17,209.16 L74.32,205.25 L73.46,208.87 L72.60,205.15 L71.74,207.74 L70.88,211.59 L70.03,222.00 L69.17,210.53 L68.31,217.26 L67.45,213.87 L66.59,213.51 L65.74,203.85 L64.88,201.28 L64.02,202.70 L63.16,214.51 L62.31,218.76 L61.45,211.02 L60.59,217.01 L59.73,219.46 L58.87,207.88 L58.02,208.39 L57.16,213.28 L56.30,207.43 L55.44,216.13 L54.58,204.61 L53.73,212.33 L52.87,214.51 L52.01,221.12 L51.15,210.26 L50.29,213.26 L49.44,210.29 L48.58,217.97 L47.72,206.12 L46.86,210.64 L46.01,223.86 L45.15,219.27 L44.29,219.11 L43.43,211.24 L42.57,209.19 L41.72,216.32 L40.86,212.53 L40.00,209.52 Z" fill="#a9a9a9"/>
<path d="M40.30,175.00 L40.90,164.90 L42.40,176.70 L43.90,188.50 L45.00,184.61 L46.10,175.20 L47.60,164.90 L49.00,167.90 L50.50,164.90 L51.60,163.90 L52.70,164.20 L53.80,170.91 L54.90,185.60 L55.70,205.20 L56.40,200.00 L57.50,189.79 L58.60,172.30 L59.70,171.10 L60.80,166.40 L62.30,168.00 L63.40,166.38 L64.50,164.20 L65.65,163.90 L66.80,165.00 L68.20,175.20 L69.35,195.13 L70.50,217.70 L71.60,196.41 L72.70,173.80 L74.10,188.50 L75.25,177.93 L76.40,167.90 L77.50,177.92 L78.60,188.50 L80.00,219.20 L81.00,190.00 L82.00,196.00 L83.50,214.80 L85.00,170.80 L85.70,166.40 L87.20,185.60 L88.30,176.57 L89.40,169.30 L90.50,178.21 L91.60,188.50 L92.70,173.96 L93.80,164.90 L94.90,172.45 L96.00,173.80 L97.10,168.27 L98.20,163.90 L99.35,169.26 L100.50,178.20 L101.60,173.01 L102.70,163.90 L103.80,169.23 L104.90,178.20 L105.60,207.40 L106.40,195.00 L107.50,180.62 L108.60,164.90 L109.70,171.33 L110.80,173.00 L111.50,207.40 L112.50,195.00 L113.50,181.65 L114.50,164.90 L115.95,164.13 L117.40,166.00 L118.55,166.47 L119.70,172.30 L120.80,165.05 L121.90,164.90 L123.35,163.90 L124.80,167.00 L126.30,173.80 L127.65,175.32 L129.00,175.00 L130.20,164.90 L131.30,164.72 L132.40,168.00 L133.50,169.93 L134.60,164.90 L135.75,177.56 L136.90,188.50 L138.35,179.43 L139.80,170.80 L140.90,179.47 L142.00,188.50 L143.50,180.27 L145.00,164.90 L146.85,166.02 L148.70,164.90 L149.80,169.36 L150.90,176.70 L152.35,169.37 L153.80,164.90 L154.95,182.91 L156.10,194.50 L157.20,203.73 L158.30,213.30 L159.50,180.00 L161.20,200.00 L162.35,208.12 L163.50,216.20 L164.50,173.80 L165.80,179.03 L167.10,188.50 L168.25,193.42 L169.40,194.50" fill="none" stroke="#2a6d8e" stroke-width="1.3" stroke-linejoin="round"/>
<path d="M133.00,180.00 L134.50,177.00 L136.00,195.00 L137.30,224.00 L138.60,200.00 L140.00,170.00 L141.50,166.00 L143.00,185.00 L144.30,207.00 L145.60,175.00 L147.00,168.00 L148.50,190.00 L150.00,195.00" fill="none" stroke="#ea9479" stroke-width="1.7" stroke-linejoin="round" stroke-opacity="0.92"/>
<path d="M40.00,191.54 L40.86,191.23 L41.72,191.21 L42.57,191.83 L43.43,193.22 L44.29,192.19 L45.15,190.81 L46.01,192.30 L46.86,194.31 L47.72,195.85 L48.58,193.83 L49.44,191.48 L50.29,190.12 L51.15,194.22 L52.01,195.39 L52.87,195.49 L53.73,193.36 L54.58,194.50 L55.44,194.29 L56.30,193.53 L57.16,191.64 L58.02,191.82 L58.87,191.97 L59.73,194.91 L60.59,193.48 L61.45,190.46 L62.31,192.47 L63.16,188.24 L64.02,191.07 L64.88,190.51 L65.74,191.81 L66.59,194.38 L67.45,193.14 L68.31,196.46 L69.17,195.09 L70.03,195.99 L70.88,195.05 L71.74,194.27 L72.60,194.08 L73.46,196.50 L74.32,196.28 L75.17,197.70 L76.03,194.27 L76.89,196.14 L77.75,194.79 L78.61,195.28 L79.46,195.53 L80.32,196.06 L81.18,198.69 L82.04,196.74 L82.89,197.53 L83.75,194.83 L84.61,198.27 L85.47,198.07 L86.33,196.11 L87.18,193.00 L88.04,192.24 L88.90,189.71 L89.76,189.73 L90.62,189.11 L91.47,189.07 L92.33,188.82 L93.19,188.34 L94.05,187.09 L94.91,187.85 L95.76,189.19 L96.62,192.06 L97.48,192.05 L98.34,193.93 L99.19,193.75 L100.05,194.20 L100.91,197.16 L101.77,199.84 L102.63,196.83 L103.48,195.11 L104.34,193.43 L105.20,196.63 L106.06,199.63 L106.92,198.02 L107.77,197.35 L108.63,193.28 L109.49,195.40 L110.35,193.03 L111.21,192.72 L112.06,190.06 L112.92,189.43 L113.78,189.87 L114.64,190.34 L115.49,188.76 L116.35,192.16 L117.21,189.45 L118.07,187.42 L118.93,188.09 L119.78,186.53 L120.64,185.78 L121.50,186.28 L122.36,188.56 L123.22,191.74 L124.07,190.71 L124.93,192.09 L125.79,193.85 L126.65,192.99 L127.51,188.04 L128.36,187.60 L129.22,187.56 L130.08,188.96 L130.94,190.51 L131.79,191.36 L132.65,193.68 L133.51,194.25 L134.37,192.45 L135.23,192.60 L136.08,189.32 L136.94,188.83 L137.80,186.83 L138.66,186.09 L139.52,184.59 L140.37,185.68 L141.23,188.07 L142.09,190.64 L142.95,190.75 L143.81,192.71 L144.66,193.81 L145.52,195.75 L146.38,193.27 L147.24,192.17 L148.09,193.73 L148.95,190.51 L149.81,188.27 L150.67,186.85 L151.53,189.71 L152.38,187.56 L153.24,187.89 L154.10,190.23 L154.96,188.74 L155.82,189.60 L156.67,188.22 L157.53,189.13 L158.39,187.29 L159.25,186.97 L160.11,188.20 L160.96,189.63 L161.82,190.62 L162.68,190.54 L163.54,190.33 L164.39,187.56 L165.25,187.96 L166.11,189.81 L166.97,191.03 L167.83,191.68 L168.68,193.74 L169.54,195.04 L170.40,193.50" fill="none" stroke="#000" stroke-width="1.2" stroke-linejoin="round"/>
</g>
<rect x="35.5" y="159.2" width="138.80" height="129.90" fill="none" stroke="#7a7a7a" stroke-width="1"/>
<line x1="40.3" y1="289.1" x2="40.3" y2="292.70000000000005" stroke="#7a7a7a" stroke-width="1"/>
<line x1="65.6" y1="289.1" x2="65.6" y2="292.70000000000005" stroke="#7a7a7a" stroke-width="1"/>
<line x1="91.7" y1="289.1" x2="91.7" y2="292.70000000000005" stroke="#7a7a7a" stroke-width="1"/>
<line x1="117.8" y1="289.1" x2="117.8" y2="292.70000000000005" stroke="#7a7a7a" stroke-width="1"/>
<line x1="142.3" y1="289.1" x2="142.3" y2="292.70000000000005" stroke="#7a7a7a" stroke-width="1"/>
<line x1="168.4" y1="289.1" x2="168.4" y2="292.70000000000005" stroke="#7a7a7a" stroke-width="1"/>
<text x="52.65" y="296.30" font-family="'Liberation Sans', sans-serif" font-weight="bold" font-size="7.15" text-anchor="middle" fill="#111">NOV</text>
<text x="78.35" y="296.30" font-family="'Liberation Sans', sans-serif" font-weight="bold" font-size="7.15" text-anchor="middle" fill="#111">DEC</text>
<text x="104.45" y="296.30" font-family="'Liberation Sans', sans-serif" font-weight="bold" font-size="7.15" text-anchor="middle" fill="#111">JAN</text>
<text x="129.75" y="296.30" font-family="'Liberation Sans', sans-serif" font-weight="bold" font-size="7.15" text-anchor="middle" fill="#111">FEB</text>
<text x="155.05" y="296.30" font-family="'Liberation Sans', sans-serif" font-weight="bold" font-size="7.15" text-anchor="middle" fill="#111">MAR</text>
<line x1="31.7" y1="163.8" x2="35.5" y2="163.8" stroke="#7a7a7a" stroke-width="1"/>
<text x="28.3" y="166.90" font-family="'Liberation Sans', sans-serif" font-size="8.6" text-anchor="end" fill="#2a2a2a">100</text>
<line x1="31.7" y1="192.3" x2="35.5" y2="192.3" stroke="#7a7a7a" stroke-width="1"/>
<text x="28.3" y="195.40" font-family="'Liberation Sans', sans-serif" font-size="8.6" text-anchor="end" fill="#2a2a2a">80</text>
<line x1="31.7" y1="220.6" x2="35.5" y2="220.6" stroke="#7a7a7a" stroke-width="1"/>
<text x="28.3" y="223.70" font-family="'Liberation Sans', sans-serif" font-size="8.6" text-anchor="end" fill="#2a2a2a">60</text>
<line x1="31.7" y1="248.9" x2="35.5" y2="248.9" stroke="#7a7a7a" stroke-width="1"/>
<text x="28.3" y="252.00" font-family="'Liberation Sans', sans-serif" font-size="8.6" text-anchor="end" fill="#2a2a2a">40</text>
<line x1="31.7" y1="277.2" x2="35.5" y2="277.2" stroke="#7a7a7a" stroke-width="1"/>
<text x="28.3" y="280.30" font-family="'Liberation Sans', sans-serif" font-size="8.6" text-anchor="end" fill="#2a2a2a">20</text>
<text transform="translate(10.6,224.3) rotate(-90)" font-family="'Liberation Sans', sans-serif" font-weight="bold" font-size="8.85" text-anchor="middle" fill="#111">Relative humidity (%)</text>
<text x="0" y="162.4" font-family="'Liberation Sans', sans-serif" font-weight="bold" font-size="8.5" fill="#111">(c)</text>
<text x="128.80" y="275.90" font-family="'Liberation Sans', sans-serif" font-size="4.42" fill="#111" stroke="#111" stroke-width="0.12">long-term daily mean</text>
<line x1="116.20" y1="273.90" x2="125.40" y2="273.90" stroke="#000" stroke-width="1.9"/>
<text x="128.80" y="280.85" font-family="'Liberation Sans', sans-serif" font-size="4.42" fill="#111" stroke="#111" stroke-width="0.12">2019/2020 daily mean</text>
<line x1="116.20" y1="278.85" x2="125.40" y2="278.85" stroke="#86aabd" stroke-width="1.8"/>
<text x="128.80" y="285.80" font-family="'Liberation Sans', sans-serif" font-size="4.42" fill="#111" stroke="#111" stroke-width="0.12">LMG20-02 daily mean</text>
<line x1="116.20" y1="283.80" x2="125.40" y2="283.80" stroke="#f3b29b" stroke-width="1.6"/>
<rect x="39.8" y="275.2" width="5.4" height="2.9" fill="#a9a9a9"/>
<rect x="39.8" y="280.8" width="5.4" height="2.9" fill="#d3d3d3"/>
<text x="46.0" y="279.0" font-family="'Liberation Sans', sans-serif" font-size="5.9" fill="#222">1 SD</text>
<text x="46.0" y="284.4" font-family="'Liberation Sans', sans-serif" font-size="5.9" fill="#222">2 SD</text>
<g clip-path="url(#clipd)">
<path d="M215.00,188.45 L215.86,154.60 L216.72,174.61 L217.57,171.94 L218.43,180.82 L219.29,168.89 L220.15,179.96 L221.01,188.13 L221.86,180.89 L222.72,174.68 L223.58,158.57 L224.44,179.53 L225.29,184.03 L226.15,177.08 L227.01,184.25 L227.87,194.17 L228.73,184.25 L229.58,172.00 L230.44,179.74 L231.30,165.45 L232.16,169.33 L233.02,187.18 L233.87,161.26 L234.73,168.14 L235.59,177.76 L236.45,188.32 L237.31,172.59 L238.16,191.97 L239.02,176.54 L239.88,161.58 L240.74,188.95 L241.59,179.19 L242.45,181.24 L243.31,166.63 L244.17,179.35 L245.03,182.90 L245.88,166.28 L246.74,193.50 L247.60,181.71 L248.46,193.90 L249.32,182.22 L250.17,168.59 L251.03,187.94 L251.89,174.47 L252.75,156.68 L253.61,190.77 L254.46,176.97 L255.32,179.80 L256.18,154.17 L257.04,168.05 L257.89,175.70 L258.75,160.36 L259.61,178.85 L260.47,180.83 L261.33,160.31 L262.18,184.69 L263.04,153.17 L263.90,158.50 L264.76,176.66 L265.62,179.03 L266.47,164.89 L267.33,137.92 L268.19,139.26 L269.05,163.41 L269.91,156.56 L270.76,159.18 L271.62,150.11 L272.48,161.24 L273.34,172.98 L274.19,144.53 L275.05,141.03 L275.91,180.96 L276.77,147.76 L277.63,163.36 L278.48,175.98 L279.34,180.79 L280.20,182.89 L281.06,204.95 L281.92,190.12 L282.77,162.38 L283.63,176.01 L284.49,183.59 L285.35,179.75 L286.21,140.80 L287.06,177.91 L287.92,165.45 L288.78,163.73 L289.64,165.62 L290.49,162.97 L291.35,180.56 L292.21,141.10 L293.07,181.47 L293.93,156.88 L294.78,152.14 L295.64,167.41 L296.50,167.82 L297.36,143.68 L298.22,139.11 L299.07,143.68 L299.93,175.25 L300.79,186.36 L301.65,191.25 L302.51,165.59 L303.36,157.48 L304.22,155.33 L305.08,179.61 L305.94,185.04 L306.79,190.87 L307.65,183.47 L308.51,164.66 L309.37,174.88 L310.23,176.85 L311.08,170.44 L311.94,174.46 L312.80,163.30 L313.66,171.65 L314.52,133.78 L315.37,153.67 L316.23,159.24 L317.09,142.09 L317.95,153.57 L318.81,149.26 L319.66,174.03 L320.52,179.05 L321.38,152.28 L322.24,163.26 L323.09,169.45 L323.95,154.00 L324.81,165.51 L325.67,172.88 L326.53,185.19 L327.38,178.34 L328.24,172.48 L329.10,171.32 L329.96,172.18 L330.82,180.02 L331.67,171.46 L332.53,181.24 L333.39,180.76 L334.25,184.54 L335.11,165.37 L335.96,180.78 L336.82,163.36 L337.68,184.16 L338.54,167.62 L339.39,159.17 L340.25,178.08 L341.11,160.72 L341.97,176.83 L342.83,189.77 L343.68,174.08 L344.54,169.43 L345.40,173.89 L345.40,240.51 L344.54,242.91 L343.68,241.93 L342.83,230.37 L341.97,245.06 L341.11,257.60 L340.25,238.88 L339.39,254.47 L338.54,244.85 L337.68,224.78 L336.82,247.67 L335.96,233.53 L335.11,250.55 L334.25,230.66 L333.39,231.90 L332.53,225.95 L331.67,237.95 L330.82,230.30 L329.96,239.97 L329.10,241.63 L328.24,240.45 L327.38,235.22 L326.53,229.13 L325.67,236.95 L324.81,244.35 L323.95,253.97 L323.09,238.36 L322.24,246.44 L321.38,257.43 L320.52,233.90 L319.66,238.63 L318.81,263.35 L317.95,258.30 L317.09,267.63 L316.23,252.08 L315.37,252.55 L314.52,272.34 L313.66,235.80 L312.80,246.82 L311.94,238.61 L311.08,245.73 L310.23,242.61 L309.37,246.36 L308.51,259.98 L307.65,245.72 L306.79,235.84 L305.94,237.61 L305.08,238.55 L304.22,259.30 L303.36,263.02 L302.51,261.54 L301.65,238.73 L300.79,246.87 L299.93,248.84 L299.07,275.36 L298.22,273.95 L297.36,266.74 L296.50,239.57 L295.64,245.78 L294.78,270.66 L293.93,265.57 L293.07,236.30 L292.21,276.77 L291.35,238.44 L290.49,257.49 L289.64,254.22 L288.78,253.97 L287.92,249.18 L287.06,234.94 L286.21,274.21 L285.35,237.48 L284.49,234.56 L283.63,248.64 L282.77,275.48 L281.92,260.37 L281.06,257.48 L280.20,280.22 L279.34,273.46 L278.48,267.74 L277.63,269.16 L276.77,280.31 L275.91,247.03 L275.05,284.95 L274.19,287.01 L273.34,259.95 L272.48,271.03 L271.62,280.38 L270.76,265.40 L269.91,265.92 L269.05,257.03 L268.19,279.07 L267.33,276.96 L266.47,252.62 L265.62,238.14 L264.76,244.30 L263.90,266.10 L263.04,269.20 L262.18,240.76 L261.33,264.69 L260.47,246.43 L259.61,250.41 L258.75,266.80 L257.89,245.36 L257.04,246.71 L256.18,264.86 L255.32,244.79 L254.46,248.07 L253.61,236.10 L252.75,268.72 L251.89,250.11 L251.03,238.89 L250.17,260.08 L249.32,247.74 L248.46,239.28 L247.60,248.05 L246.74,237.46 L245.88,262.62 L245.03,246.92 L244.17,251.18 L243.31,262.77 L242.45,249.84 L241.59,249.74 L240.74,241.38 L239.88,266.49 L239.02,251.86 L238.16,235.12 L237.31,250.95 L236.45,232.49 L235.59,239.34 L234.73,244.25 L233.87,253.63 L233.02,233.01 L232.16,250.98 L231.30,258.71 L230.44,246.05 L229.58,258.11 L228.73,252.44 L227.87,245.12 L227.01,258.51 L226.15,261.10 L225.29,248.52 L224.44,250.65 L223.58,269.77 L222.72,255.47 L221.86,250.72 L221.01,242.71 L220.15,251.82 L219.29,258.70 L218.43,245.41 L217.57,253.27 L216.72,249.22 L215.86,268.74 L215.00,234.41 Z" fill="#d3d3d3"/>
<path d="M215.00,200.50 L215.86,182.88 L216.72,192.51 L217.57,192.17 L218.43,196.55 L219.29,191.68 L220.15,197.81 L221.01,201.31 L221.86,197.26 L222.72,194.51 L223.58,187.86 L224.44,197.61 L225.29,200.25 L226.15,198.04 L227.01,202.64 L227.87,208.60 L228.73,200.33 L229.58,193.31 L230.44,197.10 L231.30,188.87 L232.16,189.58 L233.02,197.14 L233.87,185.55 L234.73,188.20 L235.59,193.14 L236.45,199.95 L237.31,192.63 L238.16,203.09 L239.02,195.42 L239.88,188.58 L240.74,201.96 L241.59,197.68 L242.45,198.76 L243.31,190.84 L244.17,197.31 L245.03,198.91 L245.88,190.30 L246.74,203.44 L247.60,198.55 L248.46,203.38 L249.32,198.96 L250.17,191.47 L251.03,200.14 L251.89,192.85 L252.75,183.64 L253.61,201.82 L254.46,195.45 L255.32,197.05 L256.18,182.60 L257.04,187.22 L257.89,193.41 L258.75,186.37 L259.61,196.78 L260.47,197.73 L261.33,187.79 L262.18,199.13 L263.04,182.33 L263.90,184.19 L264.76,193.42 L265.62,193.61 L266.47,185.09 L267.33,172.01 L268.19,173.96 L269.05,187.61 L269.91,185.03 L270.76,186.01 L271.62,182.38 L272.48,188.33 L273.34,195.23 L274.19,178.77 L275.05,177.72 L275.91,196.86 L276.77,182.32 L277.63,190.03 L278.48,198.45 L279.34,202.50 L280.20,207.19 L281.06,218.40 L281.92,207.98 L282.77,191.14 L283.63,195.11 L284.49,197.05 L285.35,195.45 L286.21,172.86 L287.06,192.43 L287.92,186.87 L288.78,186.08 L289.64,188.20 L290.49,186.42 L291.35,195.32 L292.21,175.83 L293.07,195.04 L293.93,183.69 L294.78,181.72 L295.64,186.21 L296.50,185.41 L297.36,173.85 L298.22,172.41 L299.07,175.78 L299.93,193.19 L300.79,200.59 L301.65,205.65 L302.51,189.34 L303.36,183.05 L304.22,182.89 L305.08,195.23 L305.94,198.59 L306.79,201.75 L307.65,198.71 L308.51,188.46 L309.37,193.07 L310.23,192.40 L311.08,188.68 L311.94,189.37 L312.80,183.76 L313.66,186.28 L314.52,168.82 L315.37,179.87 L316.23,181.43 L317.09,173.87 L317.95,179.55 L318.81,177.92 L319.66,190.96 L320.52,191.93 L321.38,179.02 L322.24,184.19 L323.09,186.57 L323.95,178.57 L324.81,185.05 L325.67,189.06 L326.53,194.99 L327.38,192.69 L328.24,188.88 L329.10,189.36 L329.96,188.68 L330.82,193.06 L331.67,188.76 L332.53,193.17 L333.39,192.26 L334.25,197.27 L335.11,186.48 L335.96,194.75 L336.82,184.86 L337.68,194.18 L338.54,187.27 L339.39,183.68 L340.25,192.89 L341.11,185.37 L341.97,193.25 L342.83,200.61 L343.68,191.11 L344.54,188.04 L345.40,190.10 L345.40,224.81 L344.54,226.41 L343.68,225.29 L342.83,220.54 L341.97,226.36 L341.11,232.97 L340.25,224.60 L339.39,232.13 L338.54,225.14 L337.68,215.50 L336.82,226.68 L335.96,219.90 L335.11,229.66 L334.25,220.19 L333.39,219.27 L332.53,215.88 L331.67,221.75 L330.82,217.59 L329.96,223.29 L329.10,222.85 L328.24,222.83 L327.38,220.18 L326.53,217.24 L325.67,221.30 L324.81,223.35 L323.95,229.13 L323.09,221.81 L322.24,225.67 L321.38,231.55 L320.52,219.96 L319.66,221.72 L318.81,234.55 L317.95,232.46 L317.09,235.89 L316.23,228.28 L315.37,228.36 L314.52,237.54 L313.66,220.22 L312.80,226.44 L311.94,222.75 L311.08,226.81 L310.23,225.95 L309.37,229.02 L308.51,236.15 L307.65,230.18 L306.79,224.72 L305.94,224.83 L305.08,224.24 L304.22,233.92 L303.36,236.63 L302.51,236.45 L301.65,227.81 L300.79,230.46 L299.93,230.62 L299.07,241.09 L298.22,240.99 L297.36,235.52 L296.50,221.57 L295.64,226.30 L294.78,240.36 L293.93,237.56 L293.07,223.75 L292.21,242.83 L291.35,224.06 L290.49,232.95 L289.64,232.73 L288.78,230.78 L287.92,227.83 L287.06,219.95 L286.21,239.82 L285.35,222.59 L284.49,223.66 L283.63,231.42 L282.77,248.28 L281.92,242.49 L281.06,243.97 L280.20,256.37 L279.34,250.58 L278.48,244.22 L277.63,243.48 L276.77,248.03 L275.91,230.22 L275.05,248.98 L274.19,251.11 L273.34,238.81 L272.48,244.11 L271.62,247.42 L270.76,239.63 L269.91,238.49 L269.05,234.25 L268.19,245.65 L267.33,243.33 L266.47,229.22 L265.62,222.96 L264.76,227.49 L263.90,237.95 L263.04,241.73 L262.18,225.56 L261.33,238.85 L260.47,230.42 L259.61,232.79 L258.75,240.54 L257.89,227.82 L257.04,228.18 L256.18,238.34 L255.32,228.36 L254.46,230.98 L253.61,223.68 L252.75,240.63 L251.89,231.72 L251.03,226.29 L250.17,237.28 L249.32,231.40 L248.46,227.05 L247.60,232.60 L246.74,226.20 L245.88,239.11 L245.03,231.07 L244.17,233.55 L243.31,238.86 L242.45,232.27 L241.59,232.48 L240.74,227.95 L239.88,240.95 L239.02,232.57 L238.16,223.38 L237.31,230.98 L236.45,221.17 L235.59,223.91 L234.73,225.58 L233.87,231.20 L233.02,221.20 L232.16,231.45 L231.30,235.12 L230.44,229.58 L229.58,235.80 L228.73,234.20 L227.87,232.61 L227.01,239.85 L226.15,239.47 L225.29,232.57 L224.44,234.35 L223.58,242.40 L222.72,234.83 L221.86,231.71 L221.01,230.20 L220.15,233.18 L219.29,236.96 L218.43,230.76 L217.57,231.98 L216.72,230.43 L215.86,239.08 L215.00,222.37 Z" fill="#a9a9a9"/>
<path d="M215.30,200.00 L216.80,164.30 L218.00,230.00 L219.10,245.00 L220.50,234.00 L222.00,212.00 L223.60,164.30 L224.40,164.30 L225.50,189.00 L226.45,186.24 L227.40,191.00 L228.90,164.30 L229.60,164.30 L230.50,200.00 L232.00,240.00 L233.00,226.80 L234.00,215.00 L235.00,212.84 L236.00,205.00 L237.20,191.00 L238.50,210.00 L239.50,216.63 L240.50,215.00 L242.30,164.30 L243.40,179.74 L244.50,200.00 L245.65,220.49 L246.80,241.00 L248.00,200.00 L249.10,178.60 L250.05,189.95 L251.00,200.00 L252.30,211.00 L253.60,223.60 L255.10,187.70 L256.05,197.82 L257.00,205.00 L257.95,218.25 L258.90,235.70 L259.95,218.17 L261.00,205.00 L262.70,181.70 L263.85,193.45 L265.00,205.00 L266.50,195.01 L268.00,189.20 L269.50,211.60 L270.50,195.55 L271.50,180.00 L273.00,215.00 L274.50,190.27 L276.00,164.30 L277.80,175.00 L278.80,170.52 L279.80,164.30 L281.30,187.70 L282.85,191.78 L284.40,190.70 L285.50,177.79 L286.60,164.30 L287.75,192.83 L288.90,226.70 L290.20,214.53 L291.50,200.00 L292.85,184.13 L294.20,174.10 L295.30,165.08 L296.40,164.30 L298.00,168.00 L299.00,184.37 L300.00,200.00 L301.50,217.71 L303.00,230.00 L304.50,228.55 L306.00,223.60 L307.15,195.29 L308.30,164.30 L309.25,182.06 L310.20,200.00 L311.15,183.37 L312.10,171.00 L313.25,183.41 L314.40,205.00 L315.45,215.92 L316.50,215.00 L317.70,196.45 L318.90,186.20 L319.95,207.90 L321.00,229.50 L322.60,199.33 L324.20,164.30 L325.10,177.62 L326.00,185.00 L327.00,173.47 L328.00,164.30 L329.15,181.54 L330.30,197.00 L332.10,183.20 L332.80,215.00 L333.80,210.69 L334.80,205.00 L336.20,238.40 L337.35,217.86 L338.50,200.00 L339.95,220.22 L341.40,242.80 L342.10,252.70 L343.05,231.53 L344.00,210.00" fill="none" stroke="#2a6d8e" stroke-width="1.3" stroke-linejoin="round"/>
<path d="M308.60,210.00 L310.00,198.00 L311.30,230.00 L312.60,263.00 L313.80,232.00 L315.40,242.00 L317.00,200.00 L318.40,182.00 L319.80,220.00 L321.20,188.00 L322.60,212.00 L324.00,225.00" fill="none" stroke="#ea9479" stroke-width="2.4" stroke-linejoin="round" stroke-opacity="0.92"/>
<path d="M215.00,211.30 L215.86,210.79 L216.72,211.33 L217.57,211.28 L218.43,214.04 L219.29,214.00 L220.15,215.95 L221.01,215.57 L221.86,216.17 L222.72,214.62 L223.58,215.41 L224.44,216.35 L225.29,216.35 L226.15,218.62 L227.01,220.96 L227.87,220.59 L228.73,218.08 L229.58,214.89 L230.44,213.44 L231.30,212.79 L232.16,210.97 L233.02,208.65 L233.87,209.60 L234.73,205.73 L235.59,210.11 L236.45,208.76 L237.31,210.62 L238.16,212.58 L239.02,214.68 L239.88,213.74 L240.74,215.46 L241.59,215.82 L242.45,214.62 L243.31,215.12 L244.17,215.51 L245.03,215.14 L245.88,214.09 L246.74,213.21 L247.60,214.44 L248.46,214.36 L249.32,215.17 L250.17,214.24 L251.03,212.75 L251.89,211.60 L252.75,211.92 L253.61,212.80 L254.46,213.26 L255.32,212.81 L256.18,211.00 L257.04,209.00 L257.89,210.44 L258.75,214.65 L259.61,213.54 L260.47,214.15 L261.33,212.80 L262.18,210.73 L263.04,213.09 L263.90,213.04 L264.76,211.08 L265.62,207.31 L266.47,205.09 L267.33,208.98 L268.19,210.14 L269.05,210.51 L269.91,210.88 L270.76,211.51 L271.62,214.88 L272.48,214.63 L273.34,215.61 L274.19,214.97 L275.05,214.68 L275.91,214.43 L276.77,215.86 L277.63,217.41 L278.48,222.14 L279.34,226.11 L280.20,232.03 L281.06,231.08 L281.92,224.38 L282.77,218.78 L283.63,212.84 L284.49,209.54 L285.35,207.29 L286.21,206.49 L287.06,206.78 L287.92,208.29 L288.78,209.85 L289.64,210.31 L290.49,209.82 L291.35,208.88 L292.21,207.99 L293.07,206.80 L293.93,210.53 L294.78,212.01 L295.64,205.92 L296.50,205.32 L297.36,206.30 L298.22,207.01 L299.07,208.43 L299.93,213.58 L300.79,216.92 L301.65,215.25 L302.51,213.55 L303.36,210.97 L304.22,207.21 L305.08,211.42 L305.94,211.45 L306.79,214.01 L307.65,213.99 L308.51,212.83 L309.37,211.17 L310.23,210.62 L311.08,207.54 L311.94,206.95 L312.80,205.72 L313.66,203.43 L314.52,203.71 L315.37,202.69 L316.23,203.45 L317.09,204.89 L317.95,204.39 L318.81,205.06 L319.66,205.65 L320.52,205.23 L321.38,204.80 L322.24,203.88 L323.09,204.54 L323.95,203.68 L324.81,202.30 L325.67,205.89 L326.53,207.17 L327.38,206.50 L328.24,206.90 L329.10,205.17 L329.96,207.17 L330.82,205.82 L331.67,204.74 L332.53,205.55 L333.39,206.46 L334.25,207.11 L335.11,208.44 L335.96,207.54 L336.82,205.53 L337.68,204.78 L338.54,205.53 L339.39,206.27 L340.25,210.10 L341.11,209.84 L341.97,210.27 L342.83,208.76 L343.68,207.84 L344.54,208.10 L345.40,206.55" fill="none" stroke="#000" stroke-width="1.2" stroke-linejoin="round"/>
</g>
<rect x="210.5" y="159.2" width="138.50" height="129.90" fill="none" stroke="#7a7a7a" stroke-width="1"/>
<line x1="215.3" y1="289.1" x2="215.3" y2="292.70000000000005" stroke="#7a7a7a" stroke-width="1"/>
<line x1="240.6" y1="289.1" x2="240.6" y2="292.70000000000005" stroke="#7a7a7a" stroke-width="1"/>
<line x1="266.7" y1="289.1" x2="266.7" y2="292.70000000000005" stroke="#7a7a7a" stroke-width="1"/>
<line x1="292.8" y1="289.1" x2="292.8" y2="292.70000000000005" stroke="#7a7a7a" stroke-width="1"/>
<line x1="317.3" y1="289.1" x2="317.3" y2="292.70000000000005" stroke="#7a7a7a" stroke-width="1"/>
<line x1="343.4" y1="289.1" x2="343.4" y2="292.70000000000005" stroke="#7a7a7a" stroke-width="1"/>
<text x="227.65" y="296.30" font-family="'Liberation Sans', sans-serif" font-weight="bold" font-size="7.15" text-anchor="middle" fill="#111">NOV</text>
<text x="253.35" y="296.30" font-family="'Liberation Sans', sans-serif" font-weight="bold" font-size="7.15" text-anchor="middle" fill="#111">DEC</text>
<text x="279.45" y="296.30" font-family="'Liberation Sans', sans-serif" font-weight="bold" font-size="7.15" text-anchor="middle" fill="#111">JAN</text>
<text x="304.75" y="296.30" font-family="'Liberation Sans', sans-serif" font-weight="bold" font-size="7.15" text-anchor="middle" fill="#111">FEB</text>
<text x="330.05" y="296.30" font-family="'Liberation Sans', sans-serif" font-weight="bold" font-size="7.15" text-anchor="middle" fill="#111">MAR</text>
<line x1="206.7" y1="163.8" x2="210.5" y2="163.8" stroke="#7a7a7a" stroke-width="1"/>
<text x="203.3" y="166.90" font-family="'Liberation Sans', sans-serif" font-size="8.6" text-anchor="end" fill="#2a2a2a">100</text>
<line x1="206.7" y1="192.3" x2="210.5" y2="192.3" stroke="#7a7a7a" stroke-width="1"/>
<text x="203.3" y="195.40" font-family="'Liberation Sans', sans-serif" font-size="8.6" text-anchor="end" fill="#2a2a2a">80</text>
<line x1="206.7" y1="220.6" x2="210.5" y2="220.6" stroke="#7a7a7a" stroke-width="1"/>
<text x="203.3" y="223.70" font-family="'Liberation Sans', sans-serif" font-size="8.6" text-anchor="end" fill="#2a2a2a">60</text>
<line x1="206.7" y1="248.9" x2="210.5" y2="248.9" stroke="#7a7a7a" stroke-width="1"/>
<text x="203.3" y="252.00" font-family="'Liberation Sans', sans-serif" font-size="8.6" text-anchor="end" fill="#2a2a2a">40</text>
<line x1="206.7" y1="277.2" x2="210.5" y2="277.2" stroke="#7a7a7a" stroke-width="1"/>
<text x="203.3" y="280.30" font-family="'Liberation Sans', sans-serif" font-size="8.6" text-anchor="end" fill="#2a2a2a">20</text>
<text transform="translate(185.6,224.3) rotate(-90)" font-family="'Liberation Sans', sans-serif" font-weight="bold" font-size="8.85" text-anchor="middle" fill="#111">Min. relative humidity (%)</text>
<text x="175" y="162.4" font-family="'Liberation Sans', sans-serif" font-weight="bold" font-size="8.5" fill="#111">(d)</text>
<text x="296.63" y="275.90" font-family="'Liberation Sans', sans-serif" font-size="4.42" fill="#111" stroke="#111" stroke-width="0.12">long-term daily minimum</text>
<line x1="284.03" y1="273.90" x2="293.23" y2="273.90" stroke="#000" stroke-width="1.9"/>
<text x="296.63" y="280.85" font-family="'Liberation Sans', sans-serif" font-size="4.42" fill="#111" stroke="#111" stroke-width="0.12">2019/2020 daily minimum</text>
<line x1="284.03" y1="278.85" x2="293.23" y2="278.85" stroke="#86aabd" stroke-width="1.8"/>
<text x="296.63" y="285.80" font-family="'Liberation Sans', sans-serif" font-size="4.42" fill="#111" stroke="#111" stroke-width="0.12">LMG20-02 daily minimum</text>
<line x1="284.03" y1="283.80" x2="293.23" y2="283.80" stroke="#f3b29b" stroke-width="1.6"/>
</svg>
</body></html>
